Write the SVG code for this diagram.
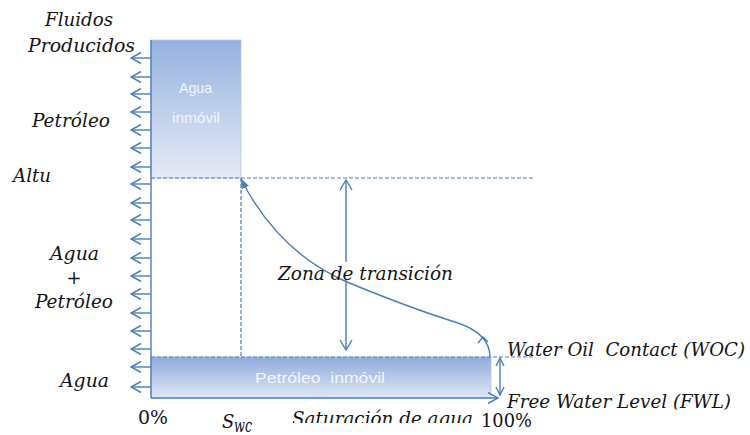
<svg xmlns="http://www.w3.org/2000/svg" width="750" height="435" viewBox="0 0 750 435">
  <style>
    .lbl { font-family: "DejaVu Serif", "Liberation Serif", serif; font-style: italic; font-size: 18px; fill: #141414; }
    .num { font-family: "DejaVu Serif", "Liberation Serif", serif; font-size: 18px; fill: #141414; }
    .box { font-family: "Liberation Sans", Arial, sans-serif; font-size: 15px; fill: #f2f5fb; }
    .ln { stroke: #4a7ebb; stroke-width: 1.4; fill: none; }
    .dash { stroke: #4a7ebb; stroke-width: 1.2; fill: none; stroke-dasharray: 4 2; }
    .pre { white-space: pre; }
  </style>
  <defs>
    <linearGradient id="gTop" x1="0" y1="0" x2="0" y2="1">
      <stop offset="0" stop-color="#95b2df"/>
      <stop offset="1" stop-color="#e5ebf6"/>
    </linearGradient>
    <linearGradient id="gBot" x1="0" y1="0" x2="0" y2="1">
      <stop offset="0" stop-color="#8eabdb"/>
      <stop offset="1" stop-color="#e0e7f4"/>
    </linearGradient>
    <marker id="chev" viewBox="0 0 12 12" markerWidth="12" markerHeight="12" refX="11" refY="6" orient="auto-start-reverse" markerUnits="userSpaceOnUse">
      <path d="M1,0.5 L11,6 L1,11.5" fill="none" stroke="#4a7ebb" stroke-width="1.5"/>
    </marker>
    <marker id="chevL" viewBox="0 0 12 14" markerWidth="12" markerHeight="14" refX="11" refY="7" orient="auto-start-reverse" markerUnits="userSpaceOnUse">
      <path d="M1,1 L11,7 L1,13" fill="none" stroke="#4a7ebb" stroke-width="1.4"/>
    </marker>
    <marker id="chevS" viewBox="0 0 10 10" markerWidth="10" markerHeight="10" refX="9" refY="5" orient="auto-start-reverse" markerUnits="userSpaceOnUse">
      <path d="M1,1 L9,5 L1,9" fill="none" stroke="#4a7ebb" stroke-width="1.4"/>
    </marker>
    <marker id="tri" viewBox="0 0 10 8" markerWidth="10" markerHeight="8" refX="9.5" refY="4" orient="auto-start-reverse" markerUnits="userSpaceOnUse">
      <path d="M0,0 L10,4 L0,8 z" fill="#4a7ebb"/>
    </marker>
    <clipPath id="clipSat"><rect x="280" y="395" width="200" height="28"/></clipPath>
    <clipPath id="clipFWL"><rect x="500" y="385" width="250" height="24.5"/></clipPath>
  </defs>

  <g id="agua-inmovil">
    <rect x="151" y="40" width="90" height="138" fill="url(#gTop)" stroke="#b3c6e8" stroke-width="0.8"/>
    <text class="box" x="179" y="93" textLength="33" lengthAdjust="spacingAndGlyphs">Agua</text>
    <text class="box" x="172" y="123" textLength="48" lengthAdjust="spacingAndGlyphs">inmóvil</text>
  </g>

  <g id="petroleo-inmovil">
    <rect x="151" y="357" width="340" height="41" fill="url(#gBot)" stroke="#b3c6e8" stroke-width="0.8"/>
    <text class="box pre" xml:space="preserve" x="255" y="383" font-size="17" textLength="130" lengthAdjust="spacingAndGlyphs">Petróleo  inmóvil</text>
  </g>

  <g id="connectors">
    <line class="ln" x1="151" y1="40" x2="151" y2="398"/>
    <line class="ln" x1="151" y1="398" x2="498" y2="398" marker-end="url(#chev)"/>
    <g class="ln" marker-end="url(#chev)">
      <line x1="151" y1="58" x2="131" y2="58"/>
      <line x1="151" y1="77" x2="131" y2="77"/>
      <line x1="151" y1="94" x2="131" y2="94"/>
      <line x1="151" y1="112" x2="131" y2="112"/>
      <line x1="151" y1="130" x2="131" y2="130"/>
      <line x1="151" y1="148" x2="131" y2="148"/>
      <line x1="151" y1="167" x2="131" y2="167"/>
      <line x1="151" y1="184" x2="131" y2="184"/>
      <line x1="151" y1="203" x2="131" y2="203"/>
      <line x1="151" y1="220" x2="131" y2="220"/>
      <line x1="151" y1="239" x2="131" y2="239"/>
      <line x1="151" y1="258" x2="131" y2="258"/>
      <line x1="151" y1="276" x2="131" y2="276"/>
      <line x1="151" y1="294" x2="131" y2="294"/>
      <line x1="151" y1="313" x2="131" y2="313"/>
      <line x1="151" y1="331" x2="131" y2="331"/>
      <line x1="151" y1="349" x2="131" y2="349"/>
      <line x1="151" y1="367" x2="131" y2="367"/>
      <line x1="151" y1="387" x2="131" y2="387"/>
    </g>
    <line class="dash" x1="151" y1="178" x2="535" y2="178"/>
    <line class="dash" x1="151" y1="357" x2="535" y2="357"/>
    <line class="dash" x1="241" y1="178" x2="241" y2="357"/>
    <line class="ln" x1="346" y1="262" x2="346" y2="180" marker-end="url(#chevL)"/>
    <line class="ln" x1="346" y1="280" x2="346" y2="350" marker-end="url(#chevL)"/>
    <line class="ln" x1="500" y1="358" x2="500" y2="395" marker-start="url(#chevS)" marker-end="url(#chevS)"/>
    <path class="ln" d="M241,179 Q278,252 347,282 Q410,308 455,322 C474,328 490,338 490,357" marker-start="url(#tri)"/>
    <path class="ln" d="M478,343 L483,337 L488,342"/>
  </g>

  <g id="labels">
    <text class="lbl" x="45" y="26" textLength="68" lengthAdjust="spacingAndGlyphs">Fluidos</text>
    <text class="lbl" x="28" y="52" textLength="107" lengthAdjust="spacingAndGlyphs">Producidos</text>
    <text class="lbl" x="32" y="127" textLength="78" lengthAdjust="spacingAndGlyphs">Petróleo</text>
    <text class="lbl" x="13" y="182" textLength="38" lengthAdjust="spacingAndGlyphs">Altu</text>
    <text class="lbl" x="50" y="260" textLength="49" lengthAdjust="spacingAndGlyphs">Agua</text>
    <text class="num" x="74" y="284" text-anchor="middle">+</text>
    <text class="lbl" x="35" y="308" textLength="78" lengthAdjust="spacingAndGlyphs">Petróleo</text>
    <text class="lbl" x="60" y="387" textLength="49" lengthAdjust="spacingAndGlyphs">Agua</text>
    <text class="num" x="138" y="424" textLength="30" lengthAdjust="spacingAndGlyphs">0%</text>
    <text class="lbl" x="222" y="428">S</text>
    <text class="lbl" x="234" y="432" font-size="12" textLength="18" lengthAdjust="spacingAndGlyphs">wc</text>
    <text class="lbl" x="292" y="425" clip-path="url(#clipSat)" textLength="181" lengthAdjust="spacingAndGlyphs">Saturación de agua</text>
    <text class="num" x="481" y="427" textLength="51" lengthAdjust="spacingAndGlyphs">100%</text>
    <text class="lbl" x="278" y="280" textLength="175" lengthAdjust="spacingAndGlyphs">Zona de transición</text>
    <text class="lbl pre" xml:space="preserve" x="507" y="356" textLength="238" lengthAdjust="spacingAndGlyphs">Water Oil  Contact (WOC)</text>
    <text class="lbl" x="507" y="408" clip-path="url(#clipFWL)" textLength="224" lengthAdjust="spacingAndGlyphs">Free Water Level (FWL)</text>
  </g>
</svg>
